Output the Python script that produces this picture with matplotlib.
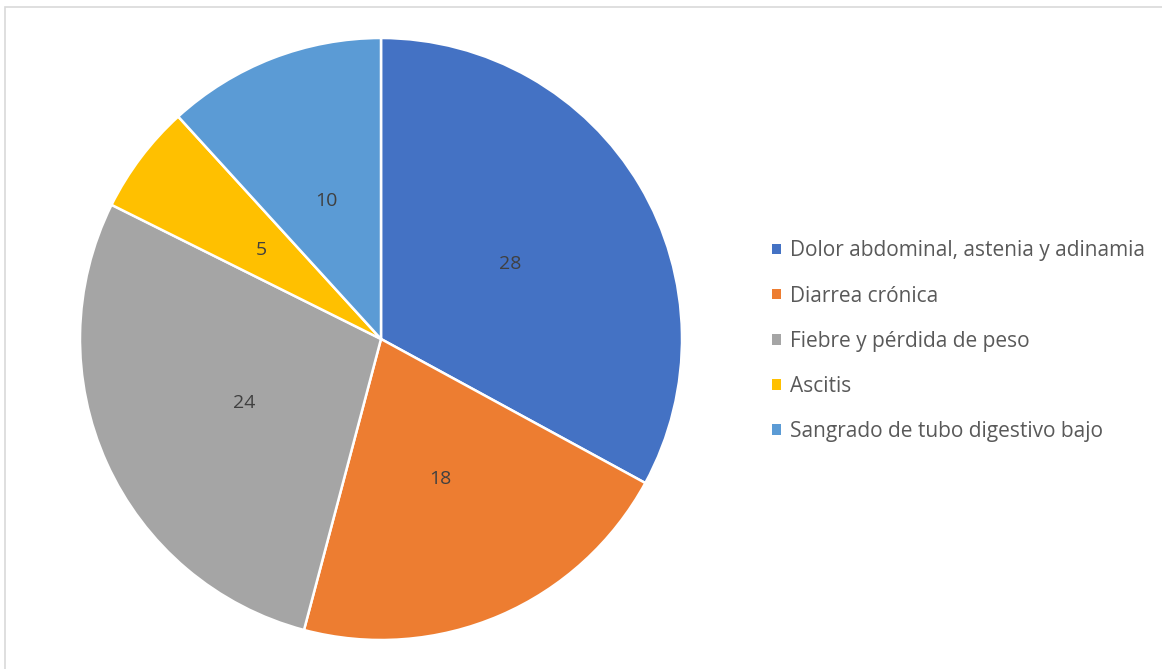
import matplotlib

matplotlib.use("Agg")
import matplotlib.pyplot as plt
from matplotlib.patches import Rectangle

categories = [
    "Dolor abdominal, astenia y adinamia",
    "Diarrea crónica",
    "Fiebre y pérdida de peso",
    "Ascitis",
    "Sangrado de tubo digestivo bajo",
]
counts = [28, 18, 24, 5, 10]
colors = ["#4472C4", "#ED7D31", "#A5A5A5", "#FFC000", "#5B9BD5"]

plt.rcParams["font.family"] = ["Open Sans", "DejaVu Sans"]

W, H = 1162, 669
fig = plt.figure(figsize=(W / 100, H / 100), dpi=100)

# chart frame
fig.patches.append(Rectangle((5 / W, 1 - 7 / H - (H + 10) / H), (W + 10) / W, (H + 10) / H,
                             transform=fig.transFigure, fill=False, edgecolor="#D9D9D9", linewidth=1.2))

cx, cy, r = 381, 339, 301
ax = fig.add_axes([(cx - r) / W, (H - cy - r) / H, 2 * r / W, 2 * r / H])
wedges, texts = ax.pie(
    counts,
    colors=colors,
    startangle=90,
    counterclock=False,
    labels=[str(c) for c in counts],
    labeldistance=0.5,
    wedgeprops={"edgecolor": "white", "linewidth": 1.8},
    textprops={"fontsize": 14, "color": "#404040"},
)
for t in texts:
    t.set_horizontalalignment("center")
    t.set_verticalalignment("center_baseline")
ax.set_xlim(-1, 1)
ax.set_ylim(-1, 1)
ax.set_aspect("equal")

leg = fig.legend(
    wedges,
    categories,
    loc="upper left",
    bbox_to_anchor=(762 / W, 1 - 230 / H),
    frameon=False,
    fontsize=15,
    handlelength=0.4,
    handleheight=0.4,
    handletextpad=0.45,
    labelspacing=1.16,
    borderpad=0,
)
for txt in leg.get_texts():
    txt.set_color("#595959")
for h in leg.legend_handles:
    h.set_edgecolor("none")

fig.savefig("out.png", dpi=100)
